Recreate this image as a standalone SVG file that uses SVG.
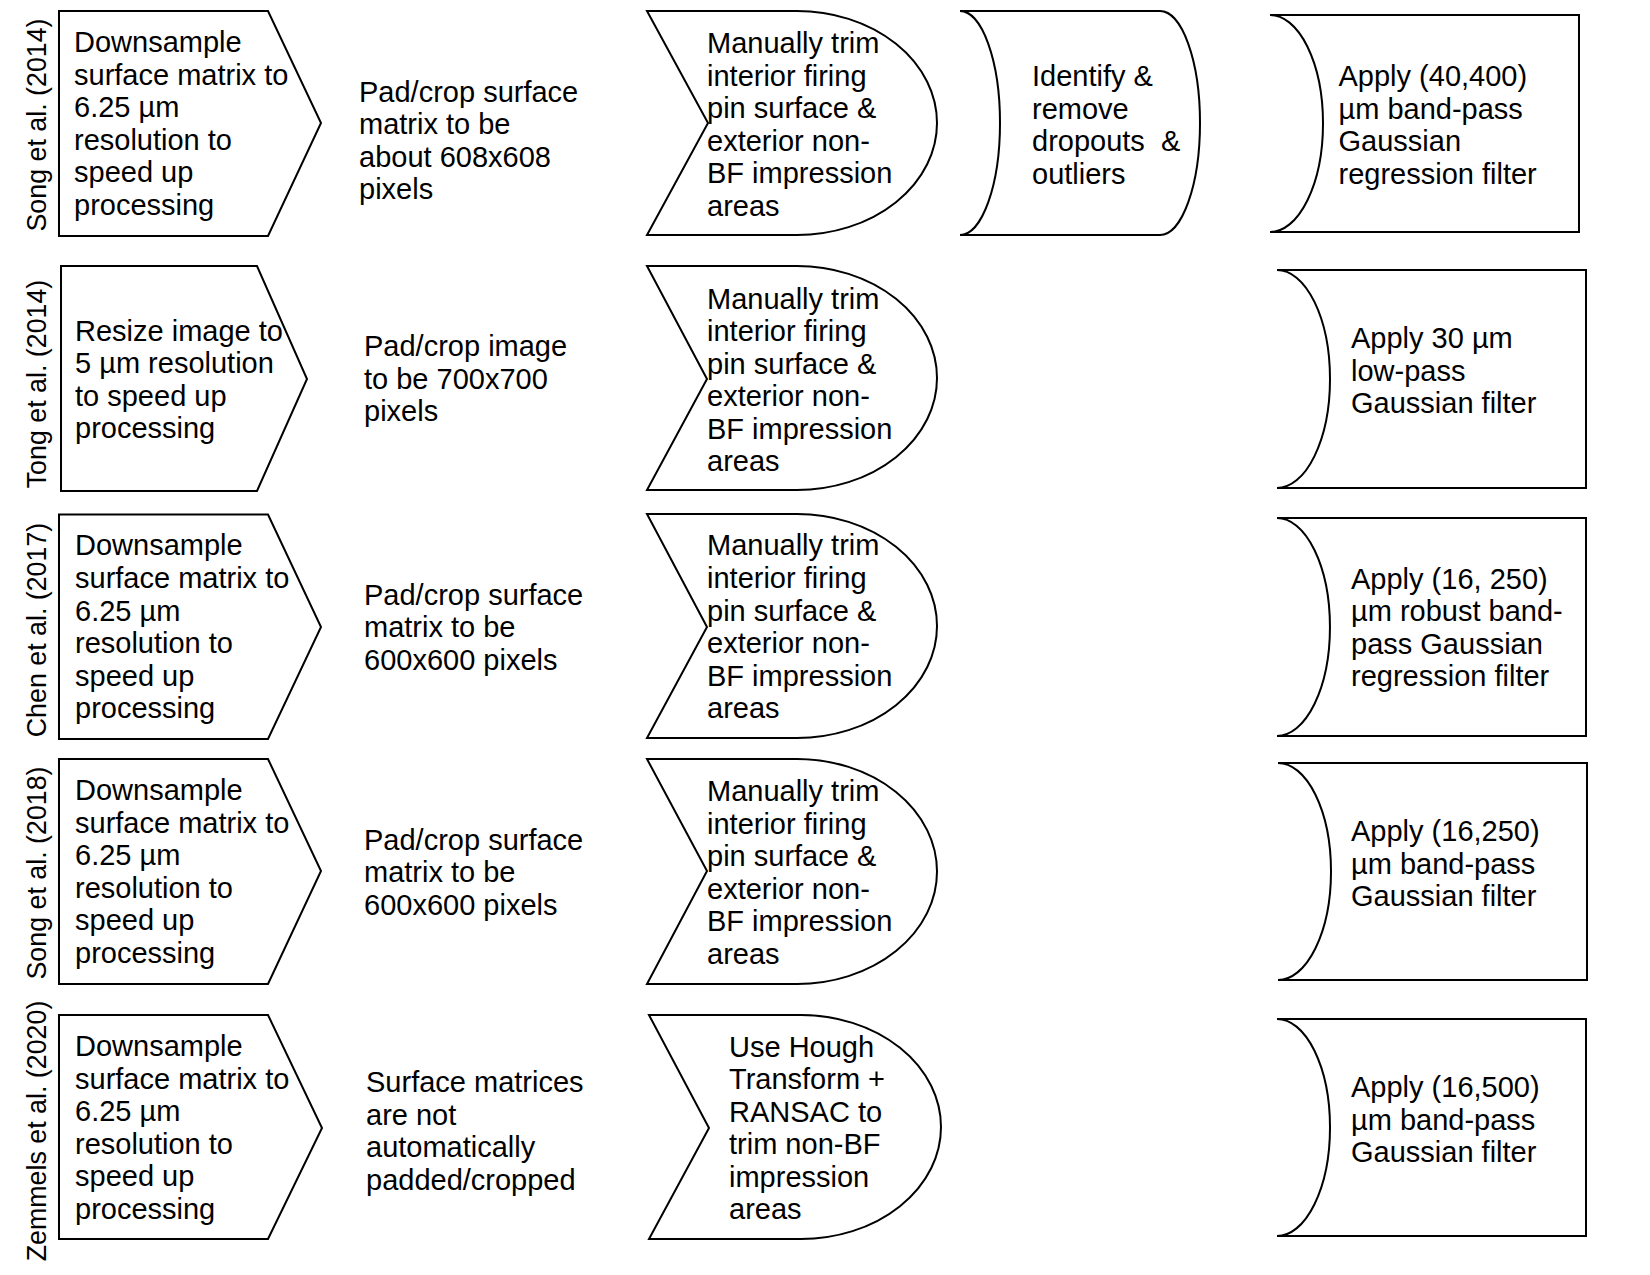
<svg xmlns="http://www.w3.org/2000/svg" width="1650" height="1275" viewBox="0 0 1650 1275">
<style>
.s{fill:#fff;stroke:#000;stroke-width:2;stroke-linejoin:miter}
.t{font-family:"Liberation Sans",Arial,sans-serif;font-size:29px;fill:#000}
.l{font-family:"Liberation Sans",Arial,sans-serif;font-size:26.8px;fill:#000;text-anchor:middle}
</style>
<rect width="1650" height="1275" fill="#fff"/>
<g id="connectors"></g>

<!-- Row labels -->
<g id="label-song2014"><text class="l" transform="translate(46,125) rotate(-90)">Song et al. (2014)</text></g>
<g id="label-tong2014"><text class="l" transform="translate(46,384) rotate(-90)">Tong et al. (2014)</text></g>
<g id="label-chen2017"><text class="l" transform="translate(46,630) rotate(-90)">Chen et al. (2017)</text></g>
<g id="label-song2018"><text class="l" transform="translate(46,873) rotate(-90)">Song et al. (2018)</text></g>
<g id="label-zemmels2020"><text class="l" transform="translate(46,1131) rotate(-90)">Zemmels et al. (2020)</text></g>

<!-- Row 1 -->
<g id="r1-downsample">
<path class="s" d="M59,11 L268,11 L321,123 L268,236 L59,236 Z"/>
<text class="t"><tspan x="74" y="52">Downsample</tspan><tspan x="74" y="84.5">surface matrix to</tspan><tspan x="74" y="117">6.25 µm</tspan><tspan x="74" y="149.5">resolution to</tspan><tspan x="74" y="182">speed up</tspan><tspan x="74" y="214.5">processing</tspan></text>
</g>
<g id="r1-pad">
<text class="t"><tspan x="359" y="101.5">Pad/crop surface</tspan><tspan x="359" y="134">matrix to be</tspan><tspan x="359" y="166.5">about 608x608</tspan><tspan x="359" y="199">pixels</tspan></text>
</g>
<g id="r1-trim">
<path class="s" d="M647,11 L797,11 A140,112 0 0 1 797,235 L647,235 L708,123 Z"/>
<text class="t"><tspan x="707" y="53">Manually trim</tspan><tspan x="707" y="85.5">interior firing</tspan><tspan x="707" y="118">pin surface &amp;</tspan><tspan x="707" y="150.5">exterior non-</tspan><tspan x="707" y="183">BF impression</tspan><tspan x="707" y="215.5">areas</tspan></text>
</g>
<g id="r1-dropouts">
<path class="s" d="M960,11 L1160,11 A40,112 0 0 1 1160,235 L960,235 A40,112 0 0 0 960,11 Z"/>
<text class="t" xml:space="preserve"><tspan x="1032" y="86">Identify &amp;</tspan><tspan x="1032" y="118.5">remove</tspan><tspan x="1032" y="151">dropouts  &amp;</tspan><tspan x="1032" y="183.5">outliers</tspan></text>
</g>
<g id="r1-filter">
<path class="s" d="M1270,15 L1579,15 L1579,232 L1270,232 A53,108.5 0 0 0 1270,15 Z"/>
<text class="t"><tspan x="1338.5" y="86">Apply (40,400)</tspan><tspan x="1338.5" y="118.5">µm band-pass</tspan><tspan x="1338.5" y="151">Gaussian</tspan><tspan x="1338.5" y="183.5">regression filter</tspan></text>
</g>

<!-- Row 2 -->
<g id="r2-resize">
<path class="s" d="M61,266 L257,266 L307,379 L257,491 L61,491 Z"/>
<text class="t"><tspan x="75" y="340.5">Resize image to</tspan><tspan x="75" y="373">5 µm resolution</tspan><tspan x="75" y="405.5">to speed up</tspan><tspan x="75" y="438">processing</tspan></text>
</g>
<g id="r2-pad">
<text class="t"><tspan x="364" y="356">Pad/crop image</tspan><tspan x="364" y="388.5">to be 700x700</tspan><tspan x="364" y="421">pixels</tspan></text>
</g>
<g id="r2-trim">
<path class="s" d="M647,266 L797,266 A140,112 0 0 1 797,490 L647,490 L707,379 Z"/>
<text class="t"><tspan x="707" y="309">Manually trim</tspan><tspan x="707" y="341">interior firing</tspan><tspan x="707" y="373.5">pin surface &amp;</tspan><tspan x="707" y="406">exterior non-</tspan><tspan x="707" y="438.5">BF impression</tspan><tspan x="707" y="471">areas</tspan></text>
</g>
<g id="r2-filter">
<path class="s" d="M1277,270 L1586,270 L1586,488 L1277,488 A53,109 0 0 0 1277,270 Z"/>
<text class="t"><tspan x="1351" y="348">Apply 30 µm</tspan><tspan x="1351" y="380.5">low-pass</tspan><tspan x="1351" y="413">Gaussian filter</tspan></text>
</g>

<!-- Row 3 -->
<g id="r3-downsample">
<path class="s" d="M59,514.5 L268,514.5 L321,627 L268,739 L59,739 Z"/>
<text class="t"><tspan x="75" y="555">Downsample</tspan><tspan x="75" y="588">surface matrix to</tspan><tspan x="75" y="620.5">6.25 µm</tspan><tspan x="75" y="653">resolution to</tspan><tspan x="75" y="685.5">speed up</tspan><tspan x="75" y="718">processing</tspan></text>
</g>
<g id="r3-pad">
<text class="t"><tspan x="364" y="604.5">Pad/crop surface</tspan><tspan x="364" y="637">matrix to be</tspan><tspan x="364" y="669.5">600x600 pixels</tspan></text>
</g>
<g id="r3-trim">
<path class="s" d="M647,514 L797,514 A140,112 0 0 1 797,738 L647,738 L707,627 Z"/>
<text class="t"><tspan x="707" y="555">Manually trim</tspan><tspan x="707" y="588">interior firing</tspan><tspan x="707" y="620.5">pin surface &amp;</tspan><tspan x="707" y="653">exterior non-</tspan><tspan x="707" y="685.5">BF impression</tspan><tspan x="707" y="718">areas</tspan></text>
</g>
<g id="r3-filter">
<path class="s" d="M1277,518 L1586,518 L1586,736 L1277,736 A53,109 0 0 0 1277,518 Z"/>
<text class="t"><tspan x="1351" y="588.5">Apply (16, 250)</tspan><tspan x="1351" y="621">µm robust band-</tspan><tspan x="1351" y="653.5">pass Gaussian</tspan><tspan x="1351" y="686">regression filter</tspan></text>
</g>

<!-- Row 4 -->
<g id="r4-downsample">
<path class="s" d="M59,759 L268,759 L321,871 L268,984 L59,984 Z"/>
<text class="t"><tspan x="75" y="800">Downsample</tspan><tspan x="75" y="832.5">surface matrix to</tspan><tspan x="75" y="865">6.25 µm</tspan><tspan x="75" y="897.5">resolution to</tspan><tspan x="75" y="930">speed up</tspan><tspan x="75" y="962.5">processing</tspan></text>
</g>
<g id="r4-pad">
<text class="t"><tspan x="364" y="849.5">Pad/crop surface</tspan><tspan x="364" y="882">matrix to be</tspan><tspan x="364" y="914.5">600x600 pixels</tspan></text>
</g>
<g id="r4-trim">
<path class="s" d="M647,759 L797,759 A140,112.5 0 0 1 797,984 L647,984 L707,871 Z"/>
<text class="t"><tspan x="707" y="801">Manually trim</tspan><tspan x="707" y="833.5">interior firing</tspan><tspan x="707" y="866">pin surface &amp;</tspan><tspan x="707" y="898.5">exterior non-</tspan><tspan x="707" y="931">BF impression</tspan><tspan x="707" y="963.5">areas</tspan></text>
</g>
<g id="r4-filter">
<path class="s" d="M1278,763 L1587,763 L1587,980 L1278,980 A53,108.5 0 0 0 1278,763 Z"/>
<text class="t"><tspan x="1351" y="841">Apply (16,250)</tspan><tspan x="1351" y="873.5">µm band-pass</tspan><tspan x="1351" y="906">Gaussian filter</tspan></text>
</g>

<!-- Row 5 -->
<g id="r5-downsample">
<path class="s" d="M59,1015 L268,1015 L322,1128 L268,1239 L59,1239 Z"/>
<text class="t"><tspan x="75" y="1056">Downsample</tspan><tspan x="75" y="1088.5">surface matrix to</tspan><tspan x="75" y="1121">6.25 µm</tspan><tspan x="75" y="1153.5">resolution to</tspan><tspan x="75" y="1186">speed up</tspan><tspan x="75" y="1218.5">processing</tspan></text>
</g>
<g id="r5-pad">
<text class="t"><tspan x="366" y="1092">Surface matrices</tspan><tspan x="366" y="1124.5">are not</tspan><tspan x="366" y="1157">automatically</tspan><tspan x="366" y="1189.5">padded/cropped</tspan></text>
</g>
<g id="r5-trim">
<path class="s" d="M649,1015 L801,1015 A140,112 0 0 1 801,1239 L649,1239 L709,1128 Z"/>
<text class="t"><tspan x="729" y="1057">Use Hough</tspan><tspan x="729" y="1089">Transform +</tspan><tspan x="729" y="1121.5">RANSAC to</tspan><tspan x="729" y="1154">trim non-BF</tspan><tspan x="729" y="1186.5">impression</tspan><tspan x="729" y="1219">areas</tspan></text>
</g>
<g id="r5-filter">
<path class="s" d="M1277,1019 L1586,1019 L1586,1236 L1277,1236 A53,108.5 0 0 0 1277,1019 Z"/>
<text class="t"><tspan x="1351" y="1097">Apply (16,500)</tspan><tspan x="1351" y="1129.5">µm band-pass</tspan><tspan x="1351" y="1162">Gaussian filter</tspan></text>
</g>
</svg>
